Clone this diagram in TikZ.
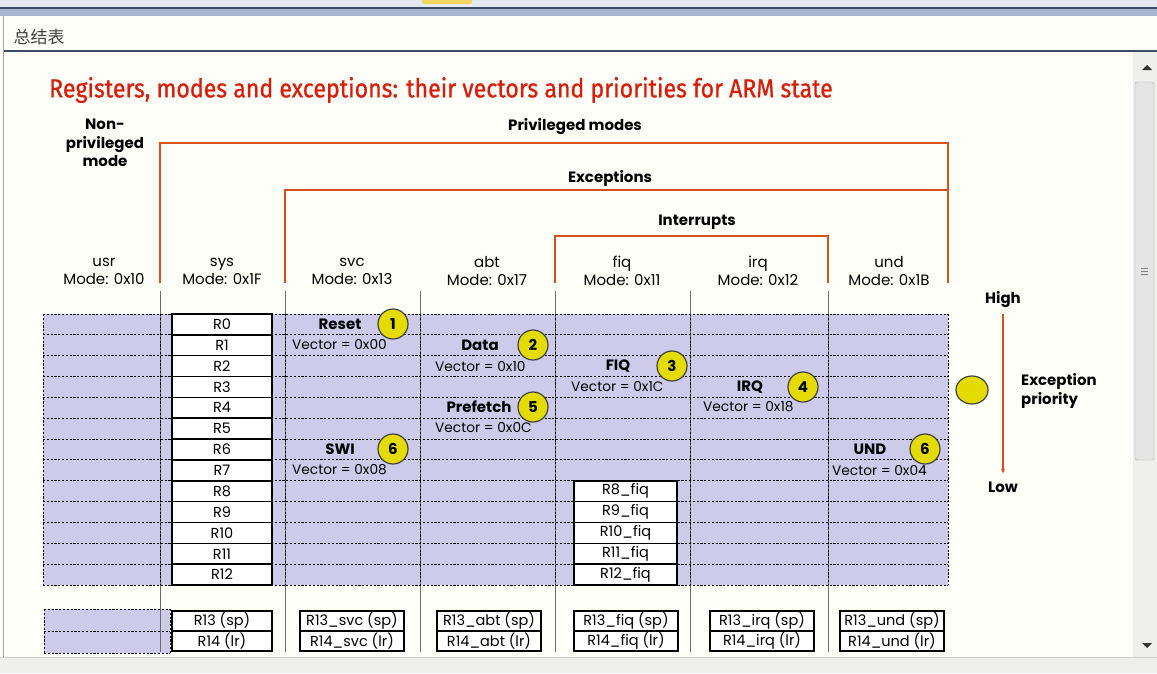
\documentclass[tikz,border=0pt]{standalone}
\usepackage{fontspec}
\setmainfont{Poppins}
\newfontfamily\cjkfont{Noto Sans CJK SC}
\newfontfamily\titlefont[FakeStretch=0.89,FakeBold=0.8]{Fira Sans}
\usetikzlibrary{arrows.meta,positioning,calc,shapes.geometric}
\definecolor{armred}{HTML}{D61E0A}
\definecolor{bracket}{HTML}{D4521C}
\definecolor{lav}{HTML}{CDCAEA}
\definecolor{badgey}{HTML}{E4DC00}
\definecolor{chrome}{HTML}{A8B6D2}
\definecolor{chromedk}{HTML}{3E4C66}
\definecolor{toolbar}{HTML}{E4EAF3}
\definecolor{tab}{HTML}{F4D45C}
\definecolor{barbg}{HTML}{EEEEEC}
\definecolor{sepgrey}{HTML}{6A6A6A}
\tikzset{reg/.style={draw,line width=1.5pt,fill=white,minimum width=100pt,minimum height=20.85pt,inner sep=0pt,font=\fontsize{14.5}{14.5}\selectfont}, modehead/.style={align=center,font=\fontsize{15}{18}\selectfont,inner sep=0pt}, grp/.style={font=\fontsize{15}{18.5}\selectfont\bfseries,align=center,inner sep=0pt}, exname/.style={font=\fontsize{15}{15}\selectfont\bfseries,inner sep=0pt}, vec/.style={anchor=west,font=\fontsize{13.7}{13.7}\selectfont,inner sep=0pt}, badge/.style={circle,draw=black!75,line width=1.2pt,fill=badgey,minimum size=30pt,inner sep=0pt,font=\fontsize{15}{15}\selectfont\bfseries}, brk/.style={draw=bracket,line width=2pt}, sepline/.style={draw=sepgrey,line width=0.9pt}, cellgrid/.style={draw=black,line width=1pt,dash pattern=on 2.2pt off 1.6pt}, prio/.style={-{Stealth[length=5pt,width=4pt]},draw=bracket,line width=1.8pt}}

\begin{document}
\begin{tikzpicture}[x=1pt,y=-1pt]
\useasboundingbox (0,0) rectangle (1157,673);
% window frame
\fill[white!98!yellow] (0,0) rectangle (1157,673);
\fill[toolbar] (0,0) rectangle (1157,7);
\fill[tab,rounded corners=2pt] (422,-3) rectangle (472,4);
\fill[chromedk] (0,7) rectangle (1157,9);
\fill[chrome] (0,9) rectangle (1157,16);
\draw[black!35] (3,16) -- (3,673);
\node[anchor=west,font=\cjkfont\fontsize{17}{17}\selectfont,text=black!75] (win) at (10,37) {总结表};
\fill[chromedk] (4,50) rectangle (1157,52);
\fill[barbg] (1133,52) rectangle (1157,657);
\fill[black!80] (1142,70) -- (1147,65) -- (1152,70) -- cycle;
\draw[black!35,fill=black!10,rounded corners=2pt] (1135,82) rectangle (1154,460);
\foreach \g in {268,271,274} \draw[black!50] (1141,\g) -- (1148,\g);
\fill[black!80] (1142,643) -- (1147,648) -- (1152,643) -- cycle;
\fill[barbg] (0,658) rectangle (1157,673);
\draw[black!20] (0,657.5) -- (1157,657.5);

% title
\node[anchor=west,text=armred,font=\titlefont\fontsize{26}{26}\selectfont,inner sep=0pt] (title) at (49,90) {Registers, modes and exceptions: their vectors and priorities for ARM state};

% mode groups
\node[grp] (nonpriv) at (105,143) {Non-\\privileged\\mode};
\node[grp] (priv) at (575,127) {Privileged modes};
\node[grp] (exc) at (610,178) {Exceptions};
\node[grp] (intr) at (697,222) {Interrupts};
\draw[brk] (160,283) |- (948,143) -- (948,283);
\draw[brk] (285,283) |- (948,190);
\draw[brk] (555,283) |- (828,236) -- (828,283);

\foreach \m/\code/\cx in {usr/0x10/104,sys/0x1F/222,svc/0x13/352,abt/0x17/487,fiq/0x11/622,irq/0x12/758,und/0x1B/889}
  \node[modehead] (h\m) at (\cx,271) {\m\\Mode: \code};

% register area
\fill[lav] (43,314) rectangle (948,585);
\fill[lav] (44,609) rectangle (170,653);
\foreach \x in {160,285,420,555,690,828}
  \draw[sepline] (\x,291) -- (\x,652);
\foreach \k in {0,...,13}
  \draw[cellgrid] (43,{314+\k*20.85}) -- (948,{314+\k*20.85});
\foreach \x in {43,160,285,420,555,690,828,948}
  \draw[cellgrid] (\x,314) -- (\x,585);
\foreach \yy in {609,631,653}
  \draw[cellgrid] (44,\yy) -- (170,\yy);
\draw[cellgrid] (44,609) -- (44,653);
\draw[cellgrid] (170,609) -- (170,653);

\foreach \i in {0,...,12}
  \node[reg] (r\i) at (222,{324.4+\i*20.85}) {R\i};
\foreach \i in {8,...,12}
  \node[reg,minimum width=103pt] (f\i) at (625.5,{324.4+\i*20.85}) {R\i\_fiq};

\node[reg,minimum height=20pt] (r13) at (222,621) {R13 (sp)};
\node[reg,minimum height=20pt] (r14) at (222,641) {R14 (lr)};
\foreach \m/\cx in {svc/352,abt/489,fiq/626,irq/762,und/892}{
  \node[reg,minimum width=104pt,minimum height=20pt] (sp\m) at (\cx,621) {R13\_\m{} (sp)};
  \node[reg,minimum width=104pt,minimum height=20pt] (lr\m) at (\cx,641) {R14\_\m{} (lr)};
}

% exceptions
\node[exname] (reset) at (340,324) {Reset};
\node[badge] (b1) at (393,324) {1};
\node[vec] (vreset) at (292,345) {Vector = 0x00};
\node[exname] (data) at (480,345) {Data};
\node[badge] (b2) at (533,345) {2};
\node[vec] (vdata) at (435,367) {Vector = 0x10};
\node[exname] (fiqx) at (618,366) {FIQ};
\node[badge] (b3) at (672,366) {3};
\node[vec] (vfiq) at (571,387) {Vector = 0x1C};
\node[exname] (irqx) at (750,387) {IRQ};
\node[badge] (b4) at (803,387) {4};
\node[vec] (virq) at (703,407) {Vector = 0x18};
\node[exname] (pref) at (479,407) {Prefetch};
\node[badge] (b5) at (533,407) {5};
\node[vec] (vpref) at (435,428) {Vector = 0x0C};
\node[exname] (swi) at (340,449) {SWI};
\node[badge] (b6) at (393,449) {6};
\node[vec] (vswi) at (292,470) {Vector = 0x08};
\node[exname] (undx) at (870,449) {UND};
\node[badge] (b7) at (925,449) {6};
\node[vec] (vund) at (832,471) {Vector = 0x04};

% priority key
\node[grp] (high) at (1003,300) {High};
\node[grp] (low) at (1003,487) {Low};
\draw[prio] ($(high.south)+(0,6)$) -- ($(low.north)+(0,-8)$);
\node[ellipse,draw=black!75,line width=1.2pt,fill=badgey,minimum width=32pt,minimum height=28pt] (key) at (972,390) {};
\node[grp,align=left,anchor=west] (prio) at (1021,391) {Exception\\priority};
\end{tikzpicture}
\end{document}
